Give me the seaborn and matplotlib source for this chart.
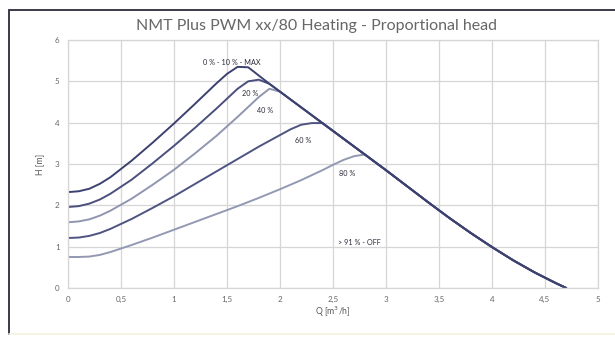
import numpy as np
import pandas as pd
import matplotlib
matplotlib.use("Agg")
import matplotlib.pyplot as plt
from matplotlib.lines import Line2D
import seaborn as sns

# Shared falling branch of the proportional-head curves (Q in m3/h, H in m)
falling_q = [1.8, 1.9, 2.0, 2.2, 2.4, 2.6, 2.8, 3.0, 3.2, 3.4, 3.6, 3.8, 4.0, 4.2, 4.4, 4.6, 4.7]
falling_h = [5.14, 4.94, 4.75, 4.37, 3.99, 3.61, 3.23, 2.85, 2.46, 2.07, 1.69, 1.33, 0.99, 0.67, 0.38, 0.12, 0.0]

# Rising part of each PWM curve, up to where it meets the falling branch
max_q = [0, 0.1, 0.2, 0.3, 0.4, 0.6, 0.8, 1.0, 1.2, 1.4, 1.5, 1.6, 1.7]
max_h = [2.32, 2.34, 2.40, 2.52, 2.68, 3.08, 3.52, 3.98, 4.46, 4.95, 5.18, 5.35, 5.34]

p20_q = [0, 0.1, 0.2, 0.3, 0.4, 0.6, 0.8, 1.0, 1.2, 1.4, 1.6, 1.7, 1.8]
p20_h = [1.96, 1.98, 2.04, 2.14, 2.28, 2.62, 3.02, 3.44, 3.88, 4.34, 4.82, 5.00, 5.04]

p40_q = [0, 0.1, 0.2, 0.3, 0.4, 0.6, 0.8, 1.0, 1.2, 1.4, 1.6, 1.8, 1.9]
p40_h = [1.59, 1.61, 1.66, 1.75, 1.87, 2.16, 2.50, 2.86, 3.26, 3.68, 4.14, 4.62, 4.82]

p60_q = [0, 0.1, 0.2, 0.3, 0.4, 0.6, 0.8, 1.0, 1.2, 1.4, 1.6, 1.8, 2.0, 2.1, 2.2, 2.3]
p60_h = [1.21, 1.22, 1.26, 1.33, 1.43, 1.67, 1.94, 2.22, 2.52, 2.82, 3.12, 3.42, 3.70, 3.84, 3.95, 3.99]

p80_q = [0, 0.1, 0.2, 0.3, 0.4, 0.6, 0.8, 1.0, 1.2, 1.4, 1.6, 1.8, 2.0, 2.2, 2.4, 2.5, 2.6, 2.7]
p80_h = [0.75, 0.75, 0.76, 0.80, 0.87, 1.04, 1.22, 1.41, 1.60, 1.79, 1.98, 2.18, 2.39, 2.61, 2.85, 2.98, 3.10, 3.19]

curve_labels = ["0 % - 10 % - MAX", "20 %", "40 %", "60 %", "80 %"]
curve_colors = ["#3d4170", "#4a4f7c", "#9095b0", "#4e5381", "#9499b3"]
label_q = [1.55, 1.72, 1.86, 2.22, 2.63]
label_h = [5.46, 4.71, 4.30, 3.57, 2.78]
off_label = "> 91 % - OFF"
off_q, off_h = 2.75, 1.11

x_ticks = [0, 0.5, 1, 1.5, 2, 2.5, 3, 3.5, 4, 4.5, 5]
x_ticklabels = ["0", "0,5", "1", "1,5", "2", "2,5", "3", "3,5", "4", "4,5", "5"]
y_ticks = [0, 1, 2, 3, 4, 5, 6]


def full_curve(q, h):
    # append the falling branch beyond the curve's last rising point
    tail = [(fq, fh) for fq, fh in zip(falling_q, falling_h) if fq > q[-1] + 0.05]
    return q + [t[0] for t in tail], h + [t[1] for t in tail]


rows = []
for name, (q, h) in zip(curve_labels, [(max_q, max_h), (p20_q, p20_h), (p40_q, p40_h),
                                       (p60_q, p60_h), (p80_q, p80_h)]):
    fq, fh = full_curve(q, h)
    for a, b in zip(fq, fh):
        rows.append({"Q": a, "H": b, "curve": name})
df = pd.DataFrame(rows)

sns.set_theme(style="white")
plt.rcParams["font.family"] = ["Lato", "DejaVu Sans"]

fig = plt.figure(figsize=(6.15, 3.37), dpi=100)
ax = fig.add_axes([68 / 615, 1 - 288 / 337, 530 / 615, 248 / 337])

grid_c = "#d6d6d6"
for xv in x_ticks:
    ax.axvline(xv, color=grid_c, lw=0.9, zorder=0)
for yv in y_ticks:
    ax.axhline(yv, color=grid_c, lw=0.9, zorder=0)

# draw the lighter curves first so the dark ones sit on top
order = [4, 2, 3, 1, 0]
for i in order:
    sub = df[df["curve"] == curve_labels[i]]
    sns.lineplot(data=sub, x="Q", y="H", ax=ax, color=curve_colors[i], lw=1.4,
                 sort=False, estimator=None, legend=False)

for txt, q, h in zip(curve_labels, label_q, label_h):
    ax.text(q, h, txt, fontsize=5.2, color="#2a2a3a", ha="center", va="center")
ax.text(off_q, off_h, off_label, fontsize=5.2, color="#2a2a3a", ha="center", va="center")

ax.set_xlim(0, 5)
ax.set_ylim(0, 6)
ax.set_xticks(x_ticks)
ax.set_xticklabels(x_ticklabels)
ax.set_yticks(y_ticks)
ax.tick_params(axis="both", length=0, labelsize=5.8, colors="#666666", pad=6)
for s in ax.spines.values():
    s.set_color(grid_c)
    s.set_linewidth(0.9)
ax.set_xlabel("Q [m$^3$/h]", fontsize=6.2, color="#555555", labelpad=1)
ax.set_ylabel("H [m]", fontsize=6.2, color="#555555", labelpad=8)

fig.text(0.515, 1 - 26 / 337, "NMT Plus PWM xx/80 Heating - Proportional head",
         ha="center", va="center", fontsize=11.5, color="#666666")

# chart frame
fig.add_artist(Line2D([9 / 615, 9 / 615], [1 - 10 / 337, 1 - 334 / 337],
                      transform=fig.transFigure, color="#3a3a4a", lw=1.4))
fig.add_artist(Line2D([9 / 615, 1.0], [1 - 10 / 337, 1 - 10 / 337],
                      transform=fig.transFigure, color="#3a3a4a", lw=1.4))
fig.add_artist(Line2D([9 / 615, 1.0], [1 - 334 / 337, 1 - 334 / 337],
                      transform=fig.transFigure, color="#f3f1dc", lw=1.2))

fig.savefig("out.png", dpi=100)
